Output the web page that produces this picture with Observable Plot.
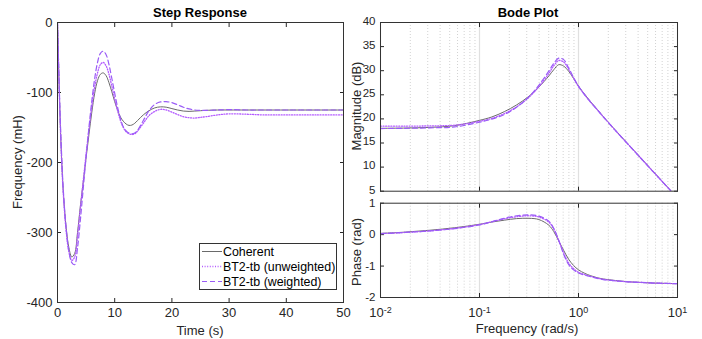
<!DOCTYPE html>
<html><head><meta charset="utf-8">
<script src="https://cdn.jsdelivr.net/npm/d3@7"></script>
<script src="https://cdn.jsdelivr.net/npm/@observablehq/plot@0.6"></script>
<style>
body{margin:0;background:#fff;font-family:"Liberation Sans",Arial,sans-serif;}
#root{position:relative;width:702px;height:339px;overflow:hidden;background:#fff;}
.t{position:absolute;white-space:nowrap;transform:translate(-50%,-50%);color:#000;}
.title{font-weight:bold;font-size:13px;}
.lab{font-size:13px;color:#262626;}
.rot{transform:translate(-50%,-50%) rotate(-90deg);}
</style></head><body><div id="root"></div>
<script>
// ---------- data ----------
const seriesNames = ["Coherent", "BT2-tb (unweighted)", "BT2-tb (weighted)"];
const timeTicks = [0, 10, 20, 30, 40, 50];
const stepTicks = [0, -100, -200, -300, -400];
const magTicks = [5, 10, 15, 20, 25, 30, 35, 40];
const phaseTicks = [1, 0, -1, -2];
const decadeTicks = [0.01, 0.1, 1, 10];
const minorMultipliers = [2, 3, 4, 5, 6, 7, 8, 9];

const timeS = [0,0.25,0.5,0.75,1,1.5,2,2.5,3,3.5,4,4.5,5,5.5,6,6.5,7,7.5,8,8.5,9,9.5,10,10.5,11,11.5,12,12.5,13,13.5,14,15,16,17,18,19,20,21,22,23,24,25,26,28,30,33,36,40,45,50];
const stepCoherent = [0,-78,-148,-200,-240,-292,-322,-335,-330,-300,-262,-228,-193,-160,-128,-101,-83,-74,-72,-76,-86,-99,-113,-125,-135,-141,-145,-147,-146.5,-144,-140,-132,-126,-122,-120.5,-121,-123,-125,-126.5,-127,-126.5,-126,-125.5,-125,-125,-125,-125,-125,-125,-125];
const stepUnweighted = [0,-80,-150,-203,-243,-297,-328,-340,-335,-305,-265,-226,-188,-152,-120,-92,-72,-60,-57,-62,-74,-91,-109,-126,-140,-150,-156,-159,-160,-159,-155,-144,-133,-127,-124,-125,-128,-131.5,-134.5,-136,-136.5,-135.5,-134.5,-132,-130.5,-131,-132,-132,-132,-132];
const stepWeighted = [0,-75,-142,-195,-237,-293,-327,-343,-346,-322,-282,-237,-192,-150,-112,-80,-57,-44,-41,-46,-60,-80,-101,-121,-137,-149,-155,-158,-159,-158,-154,-140,-126,-117,-113.5,-113,-114.5,-117.5,-121,-123.5,-125,-125.5,-125.5,-125,-124.5,-125,-125,-125,-125,-125];

const freq = [0.01,0.0178,0.0316,0.0562,0.1,0.133,0.178,0.237,0.316,0.398,0.501,0.562,0.631,0.708,0.794,0.891,1,1.155,1.334,1.54,1.778,2.371,3.162,4.217,5.623,7.499,10];
const magCoherent = [18.05,18.1,18.25,18.6,19.7,20.4,21.5,22.9,24.7,26.6,28.9,30.2,31.25,30.95,29.9,28.4,26.8,25.1,23.5,22.0,20.5,17.6,14.8,12.0,9.2,6.4,3.6];
const magUnweighted = [18.5,18.5,18.55,18.7,19.5,20.1,21.1,22.5,24.5,26.7,29.4,31.0,32.1,31.8,30.3,28.5,26.7,25.0,23.4,21.95,20.45,17.55,14.75,11.95,9.15,6.35,3.55];
const magWeighted = [18.0,18.05,18.15,18.35,19.3,19.95,20.9,22.4,24.6,27.0,29.9,31.5,32.6,32.3,30.6,28.6,26.8,25.0,23.4,21.95,20.45,17.55,14.75,11.95,9.15,6.35,3.55];
const phaseCoherent = [0.04,0.08,0.14,0.22,0.33,0.40,0.46,0.51,0.52,0.48,0.30,0.10,-0.20,-0.50,-0.78,-0.98,-1.12,-1.23,-1.31,-1.37,-1.41,-1.46,-1.50,-1.52,-1.54,-1.55,-1.56];
const phaseUnweighted = [0.03,0.07,0.12,0.20,0.32,0.41,0.50,0.57,0.60,0.56,0.40,0.18,-0.18,-0.58,-0.90,-1.08,-1.20,-1.27,-1.33,-1.38,-1.42,-1.47,-1.50,-1.52,-1.54,-1.55,-1.56];
const phaseWeighted = [0.03,0.07,0.12,0.19,0.31,0.41,0.52,0.60,0.63,0.59,0.43,0.20,-0.18,-0.62,-0.95,-1.12,-1.22,-1.29,-1.34,-1.39,-1.43,-1.47,-1.50,-1.52,-1.54,-1.55,-1.56];

// ---------- styles ----------
const styles = [
  {stroke: "#6a6a6a", strokeWidth: 1, dash: null},
  {stroke: "#b45cff", strokeWidth: 1.3, dash: "1,1.6"},
  {stroke: "#9a5cf6", strokeWidth: 1.2, dash: "5,3"}
];
const font = "'Liberation Sans', Arial, sans-serif";
const plotStyle = {fontFamily: font, fontSize: "13px", color: "#262626", background: "transparent", overflow: "visible"};
const minorTicks = decadeTicks.slice(0, 3).flatMap(d => minorMultipliers.map(m => d * m));
const plain = d => String(d);

const root = document.getElementById("root");
function place(node, left, top) { node.style.position = "absolute"; node.style.left = left + "px"; node.style.top = top + "px"; root.appendChild(node); }
function label(text, x, y, cls) { const d = document.createElement("div"); d.className = "t " + cls; d.textContent = text; d.style.left = x + "px"; d.style.top = y + "px"; root.appendChild(d); }

function lines(xs, ysList, xk, yk) {
  return ysList.map((ys, i) => Plot.line(xs.map((x, j) => ({[xk]: x, [yk]: ys[j]})), {
    x: xk, y: yk, stroke: styles[i].stroke, strokeWidth: styles[i].strokeWidth,
    strokeDasharray: styles[i].dash, curve: "catmull-rom", clip: true
  }));
}
function boxAxes(xTicks, yTicks, xLabels, xFormat, yPad, xPad, fs, ydy) {
  return [
    Plot.axisX({ticks: xTicks, anchor: "bottom", tickSize: 0, tickPadding: xPad, label: null, tickFormat: xLabels ? xFormat : () => "", fill: "#262626"}),
    Plot.axisX({ticks: xTicks, anchor: "bottom", tickSize: -4, label: null, tickFormat: () => ""}),
    Plot.axisX({ticks: xTicks, anchor: "top", tickSize: -4, label: null, tickFormat: () => ""}),
    Plot.axisY({ticks: yTicks, anchor: "left", tickSize: 0, tickPadding: yPad, label: null, tickFormat: plain, fill: "#262626", fontSize: fs, dy: ydy}),
    Plot.axisY({ticks: yTicks, anchor: "left", tickSize: -4, label: null, tickFormat: () => ""}),
    Plot.axisY({ticks: yTicks, anchor: "right", tickSize: -4, label: null, tickFormat: () => ""})
  ];
}

// ---------- step response ----------
const step = Plot.plot({
  width: 350, height: 339, marginLeft: 57, marginRight: 7, marginTop: 22, marginBottom: 37,
  style: plotStyle,
  x: {domain: [0, 50]}, y: {domain: [-400, 0]},
  marks: [
    ...boxAxes(timeTicks, stepTicks, true, plain, 5, 5, 13, 0),
    ...lines(timeS, [stepCoherent, stepUnweighted, stepWeighted], "t", "v"),
    Plot.frame({stroke: "#333", strokeWidth: 1})
  ]
});
place(step, 0, 0);

// ---------- bode magnitude ----------
const mag = Plot.plot({
  width: 352, height: 196, marginLeft: 30, marginRight: 25, marginTop: 22, marginBottom: 5.3,
  style: plotStyle,
  x: {type: "log", domain: [0.01, 10]}, y: {domain: [5, 40]},
  marks: [
    Plot.gridX(minorTicks, {stroke: "#d2d2d2", strokeOpacity: 1, strokeDasharray: "1,2"}),
    Plot.gridX(decadeTicks, {stroke: "#e0e0e0", strokeOpacity: 1, strokeWidth: 1.2}),
    ...boxAxes(decadeTicks, magTicks, false, null, 5, 8, 11.5, -1.3),
    ...lines(freq, [magCoherent, magUnweighted, magWeighted], "w", "m"),
    Plot.frame({stroke: "#333", strokeWidth: 1})
  ]
});
place(mag, 350, 0);

// ---------- bode phase ----------
const phase = Plot.plot({
  width: 352, height: 143, marginLeft: 30, marginRight: 25, marginTop: 6.7, marginBottom: 42,
  style: plotStyle,
  x: {type: "log", domain: [0.01, 10]}, y: {domain: [-2, 1]},
  marks: [
    Plot.gridX(minorTicks, {stroke: "#d2d2d2", strokeOpacity: 1, strokeDasharray: "1,2"}),
    Plot.gridX(decadeTicks, {stroke: "#e0e0e0", strokeOpacity: 1, strokeWidth: 1.2}),
    ...boxAxes(decadeTicks, phaseTicks, true, d => "10^" + Math.round(Math.log10(d)), 5, 10, 11.5, 0),
    ...lines(freq, [phaseCoherent, phaseUnweighted, phaseWeighted], "w", "p"),
    Plot.frame({stroke: "#333", strokeWidth: 1})
  ]
});
d3.select(phase).selectAll('g[aria-label="x-axis tick label"] text').each(function () {
  const s = this.textContent;
  if (!s.includes("^")) return;
  const [b, e] = s.split("^");
  const t = d3.select(this);
  t.text(b);
  t.append("tspan").attr("dy", "-4").attr("font-size", "9px").text(e);
});
place(phase, 350, 196);

// ---------- titles & axis labels ----------
label("Step Response", 200, 12, "title");
label("Bode Plot", 528, 12, "title");
label("Time (s)", 200, 330, "lab");
label("Frequency (rad/s)", 527, 328, "lab");
label("Frequency (mH)", 17, 162, "lab rot");
label("Magnitude (dB)", 356, 106, "lab rot");
label("Phase (rad)", 356, 252, "lab rot");

// ---------- legend ----------
const lg = d3.create("svg").attr("width", 139).attr("height", 48)
  .style("font-family", font).style("font-size", "12.4px");
lg.append("rect").attr("x", 0.5).attr("y", 0.5).attr("width", 137).attr("height", 46)
  .attr("fill", "#fff").attr("stroke", "#333");
seriesNames.forEach((name, i) => {
  const y = 8.5 + i * 15;
  lg.append("line").attr("x1", 3).attr("x2", 23).attr("y1", y).attr("y2", y)
    .attr("stroke", styles[i].stroke).attr("stroke-width", styles[i].strokeWidth)
    .attr("stroke-dasharray", styles[i].dash);
  lg.append("text").attr("x", 24).attr("y", y).attr("dy", "0.35em").attr("fill", "#000").text(name);
});
place(lg.node(), 199, 243);
</script>
</body></html>
